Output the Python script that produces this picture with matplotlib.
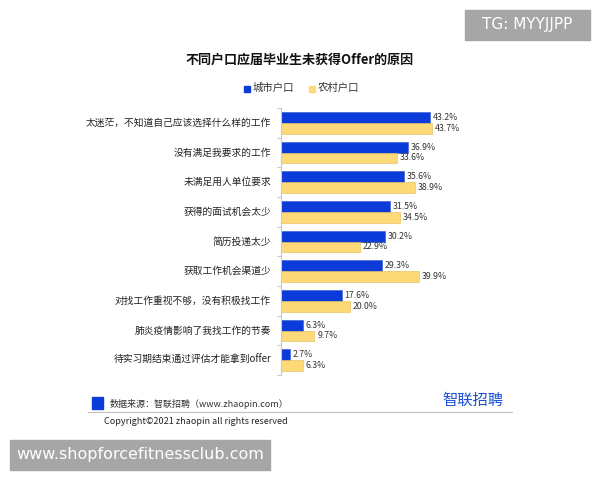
import matplotlib
matplotlib.use("Agg")
import matplotlib.pyplot as plt
from matplotlib.patches import Rectangle
import numpy as np

plt.rcParams['font.family'] = ['Noto Sans CJK SC', 'DejaVu Sans']

categories = ["太迷茫，不知道自己应该选择什么样的工作", "没有满足我要求的工作", "未满足用人单位要求",
              "获得的面试机会太少", "简历投递太少", "获取工作机会渠道少",
              "对找工作重视不够，没有积极找工作", "肺炎疫情影响了我找工作的节奏",
              "待实习期结束通过评估才能拿到offer"]
urban = [43.2, 36.9, 35.6, 31.5, 30.2, 29.3, 17.6, 6.3, 2.7]
rural = [43.7, 33.6, 38.9, 34.5, 22.9, 39.9, 20.0, 9.7, 6.3]
series_names = ["城市户口", "农村户口"]
title = "不同户口应届毕业生未获得Offer的原因"

BLUE = '#0b3bd9'
YELLOW = '#fdd978'

fig = plt.figure(figsize=(6, 4.8), dpi=100)
W, H = 600, 480

def fx(x):
    return x / W
def fy(y):
    return 1 - y / H

ax_left, ax_right, ax_top, ax_bot = 281, 460, 108, 375
ax = fig.add_axes([fx(ax_left), fy(ax_bot), fx(ax_right - ax_left), (ax_bot - ax_top) / H])
n = len(categories)
pos = np.arange(n)
bh = 0.37
ax.barh(pos - bh / 2, urban, height=bh, color=BLUE, edgecolor='#3355cc', linewidth=0.4)
ax.barh(pos + bh / 2, rural, height=bh, color=YELLOW, edgecolor='#e0bb55', linewidth=0.4)
ax.set_ylim(n - 0.5, -0.5)
ax.set_xlim(0, (ax_right - ax_left) / 3.45)
for s in ['top', 'right', 'bottom']:
    ax.spines[s].set_visible(False)
ax.spines['left'].set_color('#c8c8c8')
ax.spines['left'].set_linewidth(0.8)
ax.set_xticks([])
ax.set_yticks(np.arange(n + 1) - 0.5)
ax.set_yticklabels([])
ax.tick_params(axis='y', length=3, color='#c8c8c8', width=0.8)
for i, c in enumerate(categories):
    ax.text(-10 / 3.45, i, c, ha='right', va='center', fontsize=7, color='#222222')
for i, (u, r) in enumerate(zip(urban, rural)):
    ax.text(u + 0.8, i - bh / 2, f"{u:.1f}%", va='center', ha='left', fontsize=6.3, color='#333333')
    ax.text(r + 0.8, i + bh / 2, f"{r:.1f}%", va='center', ha='left', fontsize=6.3, color='#333333')

# title
fig.text(fx(300), fy(60), title, ha='center', va='center', fontsize=9.4, fontweight='bold', color='#111111')
# legend
fig.add_artist(Rectangle((fx(244), fy(92)), fx(6), 6 / H, color=BLUE, transform=fig.transFigure))
fig.text(fx(253), fy(88), series_names[0], ha='left', va='center', fontsize=7.5, color='#333333')
fig.add_artist(Rectangle((fx(309), fy(92)), fx(6), 6 / H, color=YELLOW, transform=fig.transFigure))
fig.text(fx(318), fy(88), series_names[1], ha='left', va='center', fontsize=7.5, color='#333333')

# footer
fig.add_artist(Rectangle((fx(92), fy(409)), fx(11), 12 / H, color=BLUE, transform=fig.transFigure))
fig.text(fx(110), fy(404), "数据来源：智联招聘（www.zhaopin.com）", ha='left', va='center', fontsize=6.5, color='#333333')
fig.text(fx(473), fy(400), "智联招聘", ha='center', va='center', fontsize=11, color='#1a4fd6')
fig.add_artist(plt.Line2D([fx(88), fx(512)], [fy(412), fy(412)], color='#c0c0c0', lw=0.8, transform=fig.transFigure))
fig.text(fx(104), fy(421), "Copyright©2021 zhaopin all rights reserved", ha='left', va='center', fontsize=6.5, color='#222222')

# watermarks
fig.add_artist(Rectangle((fx(465), fy(40)), fx(125), 30 / H, color='#a6a6a6', transform=fig.transFigure))
fig.text(fx(527), fy(25), "TG: MYYJJPP", ha='center', va='center', fontsize=11, color='white', family='DejaVu Sans')
fig.add_artist(Rectangle((fx(10), fy(470)), fx(260), 30 / H, color='#a6a6a6', transform=fig.transFigure))
fig.text(fx(140), fy(455), "www.shopforcefitnessclub.com", ha='center', va='center', fontsize=11.5, color='white', family='DejaVu Sans')

fig.savefig("out.png", dpi=100)
